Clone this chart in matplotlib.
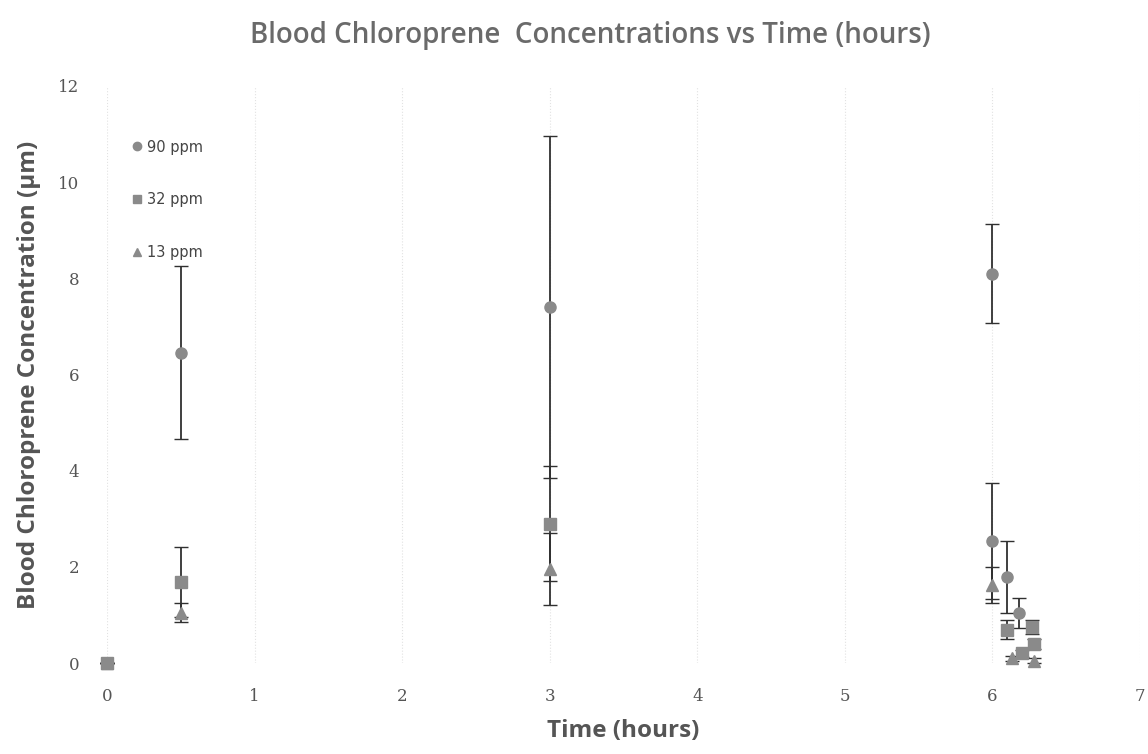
import numpy as np
import matplotlib.pyplot as plt
from matplotlib.lines import Line2D

# readings from the chart (hours, µm)
t_90 = [0, 0.5, 3, 6, 6.0, 6.1, 6.18]
c_90 = [0, 6.45, 7.4, 8.1, 2.54, 1.79, 1.04]
e_90 = [0, 1.8, 3.55, 1.03, 1.2, 0.75, 0.32]

t_32 = [0, 0.5, 3, 6.1, 6.27, 6.2, 6.28]
c_32 = [0, 1.68, 2.9, 0.69, 0.75, 0.2, 0.4]
e_32 = [0, 0.73, 1.2, 0.2, 0.15, 0.08, 0.1]

t_13 = [0, 0.5, 3, 6.0, 6.13, 6.28]
c_13 = [0, 1.05, 1.95, 1.62, 0.1, 0.05]
e_13 = [0, 0.2, 0.75, 0.38, 0.05, 0.05]

labels = ["90 ppm", "32 ppm", "13 ppm"]
x_ticks = [0, 1, 2, 3, 4, 5, 6, 7]
y_ticks = [0, 2, 4, 6, 8, 10, 12]

fig = plt.figure(figsize=(11.48, 7.54), dpi=100)
ax = fig.add_axes([107 / 1148, 1 - 663 / 754, (1140 - 107) / 1148, (663 - 86) / 754])

mk = "#8a8a8a"
eb = "#303030"
series = [(t_90, c_90, e_90, "o"), (t_32, c_32, e_32, "s"), (t_13, c_13, e_13, "^")]
for t, c, e, m in series:
    ax.errorbar(t, c, yerr=e, fmt=m, ms=8, color=mk, ecolor=eb, elinewidth=1.3, capsize=5, clip_on=False)

ax.set_xlim(0, 7)
ax.set_ylim(0, 12)
ax.set_xticks(x_ticks)
ax.set_yticks(y_ticks)
for s in ax.spines.values():
    s.set_visible(False)
ax.tick_params(length=0, labelsize=12, labelcolor="#555555")
ax.tick_params(axis="x", pad=18)
ax.tick_params(axis="y", pad=20)
for lab in ax.get_xticklabels() + ax.get_yticklabels():
    lab.set_family("DejaVu Serif")
ax.xaxis.grid(True, color="#e2e2e2", linestyle=":", linewidth=0.8)

ax.set_xlabel("Time (hours)", fontsize=17.5, fontweight="bold", color="#555555", family="Open Sans", labelpad=10)
ax.set_ylabel("Blood Chloroprene Concentration (µm)", fontsize=17.5, fontweight="bold", color="#555555", family="Open Sans", labelpad=12)
fig.text(0.514, 0.953, "Blood Chloroprene  Concentrations vs Time (hours)", ha="center", va="center",
         fontsize=20, fontweight="semibold", color="#6a6a6a", family="Open Sans")

handles = [Line2D([], [], marker=m, ls="none", ms=6, color=mk) for _, _, _, m in series]
leg = ax.legend(handles, labels, loc="upper left", bbox_to_anchor=(0.008, 0.93), frameon=False, fontsize=10.5,
                labelspacing=2.6, handletextpad=0.1, handlelength=1.2)
for tx in leg.get_texts():
    tx.set_color("#444444")

fig.savefig("out.png", dpi=100)
